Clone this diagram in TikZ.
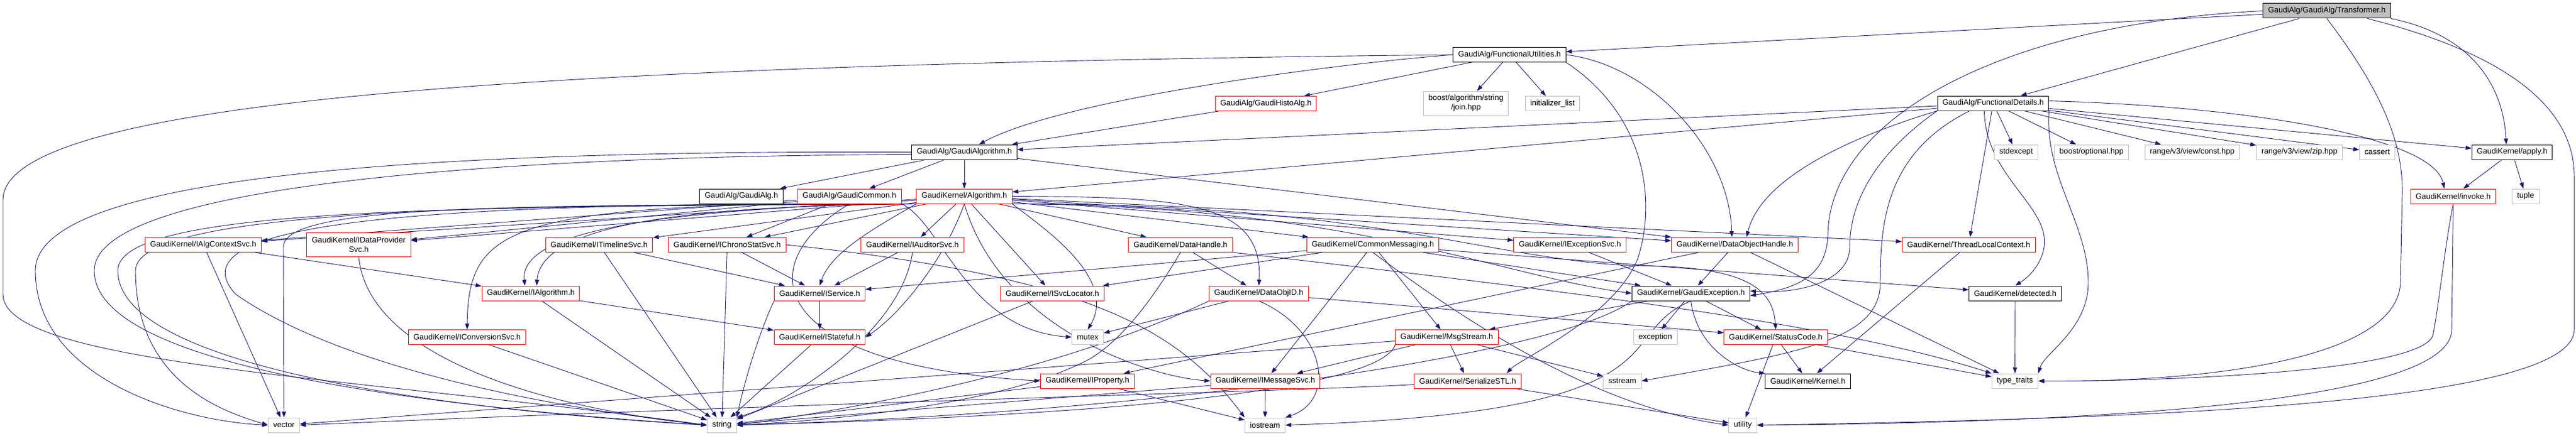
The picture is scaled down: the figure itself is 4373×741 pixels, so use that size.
\documentclass[tikz,border=0pt]{standalone}
\usepackage{fontspec}
\setmainfont{Liberation Sans}
\usetikzlibrary{arrows.meta}
\definecolor{edgeblue}{HTML}{191970}
\definecolor{sysgray}{HTML}{BFBFBF}
\definecolor{rootgray}{HTML}{BFBFBF}
\pgfdeclarelayer{edges}
\pgfsetlayers{edges,main}

\tikzset{
  hdr/.style={draw=black, fill=white, line width=1pt, inner xsep=8.5pt, inner ysep=2pt,
    minimum height=25pt, align=center, font=\fontsize{13.33}{16}\selectfont},
  trunc/.style={hdr, draw=red},
  sys/.style={hdr, draw=sysgray},
  root/.style={hdr, fill=rootgray},
  dep/.style={-{Triangle[length=10pt,width=7pt]}, draw=edgeblue, line width=0.9pt},
}

\begin{document}
\begin{tikzpicture}[x=1pt, y=-1pt]
    \useasboundingbox (0,0) rectangle (4373,741);
    % top levels
    \node[root] (tr) at (3950,18.5) {GaudiAlg/GaudiAlg/Transformer.h};
    \node[hdr] (fu) at (2562.5,93) {GaudiAlg/FunctionalUtilities.h};
    \node[trunc] (histo) at (2149,176) {GaudiAlg/GaudiHistoAlg.h};
    \node[sys, minimum height=41pt] (join) at (2488.5,175.5) {boost/algorithm/string\\/join.hpp};
    \node[sys] (initlist) at (2635.5,176) {initializer\_list};
    \node[hdr] (fd) at (3383.5,175.5) {GaudiAlg/FunctionalDetails.h};
    \node[hdr] (galgo) at (1637,258.5) {GaudiAlg/GaudiAlgorithm.h};
    \node[sys] (stdexcept) at (3422.5,258.5) {stdexcept};
    \node[sys] (optional) at (3550.5,258.5) {boost/optional.hpp};
    \node[sys] (rconst) at (3721.5,258.5) {range/v3/view/const.hpp};
    \node[sys] (rzip) at (3903.5,258.5) {range/v3/view/zip.hpp};
    \node[sys] (cassert) at (4035.5,258.5) {cassert};
    \node[hdr] (apply) at (4264.5,258.5) {GaudiKernel/apply.h};
    \node[hdr] (galg) at (1258.5,333.5) {GaudiAlg/GaudiAlg.h};
    \node[trunc] (gcommon) at (1442,333.5) {GaudiAlg/GaudiCommon.h};
    \node[trunc] (algo) at (1637,333.5) {GaudiKernel/Algorithm.h};
    \node[trunc] (invoke) at (4164.5,333.5) {GaudiKernel/invoke.h};
    \node[sys] (tuple) at (4287.5,333.5) {tuple};
    % interfaces
    \node[trunc] (ialgctx) at (345,416) {GaudiKernel/IAlgContextSvc.h};
    \node[trunc, minimum height=41pt] (idps) at (609,416) {GaudiKernel/IDataProvider\\Svc.h};
    \node[trunc] (itimeline) at (1017,416) {GaudiKernel/ITimelineSvc.h};
    \node[trunc] (ichrono) at (1234.5,416) {GaudiKernel/IChronoStatSvc.h};
    \node[trunc] (iauditor) at (1549,416) {GaudiKernel/IAuditorSvc.h};
    \node[trunc] (dhandle) at (2004,416) {GaudiKernel/DataHandle.h};
    \node[trunc] (cmsg) at (2330.5,416) {GaudiKernel/CommonMessaging.h};
    \node[trunc] (iexc) at (2665,416) {GaudiKernel/IExceptionSvc.h};
    \node[trunc] (doh) at (2945,416) {GaudiKernel/DataObjectHandle.h};
    \node[trunc] (tlc) at (3342,416) {GaudiKernel/ThreadLocalContext.h};
    \node[trunc] (ialgo) at (901,498.5) {GaudiKernel/IAlgorithm.h};
    \node[trunc] (iservice) at (1391.5,498.5) {GaudiKernel/IService.h};
    \node[trunc] (isvcloc) at (1786.5,498.5) {GaudiKernel/ISvcLocator.h};
    \node[trunc] (dobjid) at (2137,498.5) {GaudiKernel/DataObjID.h};
    \node[hdr] (gex) at (2870.5,498.5) {GaudiKernel/GaudiException.h};
    \node[hdr] (detected) at (3421,498.5) {GaudiKernel/detected.h};
    \node[trunc] (iconv) at (793,573) {GaudiKernel/IConversionSvc.h};
    \node[trunc] (istateful) at (1391.5,573) {GaudiKernel/IStateful.h};
    \node[sys] (mutex) at (1846.5,573) {mutex};
    \node[trunc] (msgstream) at (2456,573) {GaudiKernel/MsgStream.h};
    \node[sys] (exception) at (2810,573) {exception};
    \node[trunc] (statuscode) at (3014.5,573) {GaudiKernel/StatusCode.h};
    \node[trunc] (iprop) at (1846,647.5) {GaudiKernel/IProperty.h};
    \node[trunc] (imsgsvc) at (2148,647.5) {GaudiKernel/IMessageSvc.h};
    \node[trunc] (serial) at (2491.5,647.5) {GaudiKernel/SerializeSTL.h};
    \node[sys] (sstream) at (2754,647.5) {sstream};
    \node[hdr] (kernel) at (3069,647.5) {GaudiKernel/Kernel.h};
    \node[sys] (typetraits) at (3420.5,647.5) {type\_traits};
    % std headers
    \node[sys] (vector) at (482,722.5) {vector};
    \node[sys] (string) at (1225.5,722.5) {string};
    \node[sys] (iostream) at (2147.5,722.5) {iostream};
    \node[sys] (utility) at (2958.5,722.5) {utility};

    \begin{pgfonlayer}{edges}
    % straight dependencies
    \foreach \a/\b in {tr/fu, tr/fd, fu/histo, fu/join, fu/initlist, histo/galgo,
        fd/galgo, fd/algo, fd/stdexcept, fd/optional, fd/rconst, fd/rzip, fd/cassert,
        fd/apply, fd/tlc, apply/invoke, apply/tuple, galgo/galg, galgo/gcommon,
        galgo/algo, galgo/doh, algo/ialgctx, algo/idps, algo/itimeline, algo/ichrono,
        algo/iauditor, algo/dhandle, algo/cmsg, algo/iexc, algo/doh, algo/tlc,
        algo/isvcloc, gcommon/ialgctx, gcommon/idps, gcommon/ichrono,
        ialgctx/ialgo, ialgctx/vector, itimeline/iservice, itimeline/string,
        ichrono/iservice, ichrono/string, iauditor/iservice, iservice/istateful,
        ialgo/istateful, ialgo/string, isvcloc/string, istateful/string, iconv/string,
        dhandle/dobjid, cmsg/iservice, cmsg/isvcloc, cmsg/imsgsvc, cmsg/msgstream,
        cmsg/detected, cmsg/gex, iexc/gex, doh/gex, doh/iprop, doh/typetraits,
        tlc/kernel, detected/typetraits, dobjid/statuscode, dobjid/mutex,
        gex/msgstream, gex/exception, gex/statuscode, msgstream/imsgsvc,
        msgstream/serial, msgstream/sstream, msgstream/vector, statuscode/kernel,
        statuscode/utility, statuscode/typetraits, iprop/string, iprop/iostream,
        imsgsvc/iostream, imsgsvc/string, serial/utility}
        \draw[dep] (\a) -- (\b);
    % routed dependencies
    \draw[dep] (fu.west) .. controls (900,110) and (5,170) .. (5,340) -- (5,500)
        .. controls (5,620) and (600,640) .. (string.west);
    \draw[dep] (fu.west) .. controls (2250,110) and (1800,170) .. ([xshift=25pt]galgo.north);
    \draw[dep] (fu.east) .. controls (2800,110) and (2935,250) .. ([xshift=-5pt]doh.north);
    \draw[dep] (fu.south east) .. controls (2800,200) and (2810,350) .. (2780,440)
        .. controls (2740,540) and (2580,610) .. ([xshift=-25pt]serial.north east);
    \draw[dep] (tr.west) .. controls (3400,40) and (3105,200) .. (3103,400)
        .. controls (3100,470) and (3050,490) .. ([yshift=-4pt]gex.east);
    \draw[dep] (tr.south) .. controls (4040,150) and (4080,240) .. (4078,330) -- (4075,480)
        .. controls (4070,620) and (3700,650) .. (typetraits.east);
    \draw[dep] (tr.south east) .. controls (4200,60) and (4250,150) .. ([xshift=-10pt]apply.north);
    \draw[dep] ([xshift=-40pt]tr.south east) .. controls (4250,90) and (4370,180) .. (4370,300) -- (4370,560)
        .. controls (4370,690) and (3600,712) .. (utility.east);
    \draw[dep] (invoke.south) .. controls (4150,420) and (4140,520) .. (4130,570)
        .. controls (4110,630) and (3700,648) .. (typetraits.east);
    \draw[dep] (invoke.south) -- (4162,560) .. controls (4162,680) and (3600,718) .. (utility.east);
    \draw[dep] ([yshift=4pt]fd.east) .. controls (3800,180) and (4130,230) .. ([xshift=-15pt]invoke.north);
    \draw[dep] (fd.south west) .. controls (3150,230) and (2990,300) .. ([xshift=20pt]doh.north);
    \draw[dep] (fd.south west) .. controls (3200,250) and (3140,330) .. (3140,420)
        .. controls (3140,480) and (3050,500) .. ([yshift=4pt]gex.east);
    \draw[dep] ([xshift=-40pt]fd.south) .. controls (3200,260) and (3192,380) .. (3192,480)
        .. controls (3192,580) and (3050,600) .. (sstream.east);
    \draw[dep] ([xshift=-15pt]fd.south) .. controls (3370,300) and (3480,350) .. (3470,420)
        .. controls (3465,450) and (3445,470) .. (detected.north);
    \draw[dep] (fd.south east) .. controls (3470,300) and (3545,380) .. (3545,480)
        .. controls (3545,560) and (3470,600) .. (typetraits.north east);
    \draw[dep] (galgo.west) .. controls (700,255) and (60,300) .. (60,460)
        .. controls (60,640) and (300,715) .. (vector.west);
    \draw[dep] ([yshift=-4pt]galgo.west) .. controls (800,265) and (160,320) .. (160,460)
        .. controls (160,620) and (700,690) .. (string.west);
    \draw[dep] (algo.south west) .. controls (900,350) and (481,345) .. (481,420) -- (vector.north);
    \draw[dep] (algo.south west) .. controls (800,352) and (200,350) .. (200,460)
        .. controls (200,630) and (800,700) .. (string.west);
    \draw[dep] (gcommon.south west) .. controls (800,350) and (230,360) .. (230,460)
        .. controls (230,650) and (380,700) .. (vector.west);
    \draw[dep] (gcommon.south west) .. controls (700,350) and (290,380) .. (400,500)
        .. controls (600,640) and (1000,700) .. (string.west);
    \draw[dep] (gcommon.south west) .. controls (850,355) and (795,400) .. (iconv.north);
    \draw[dep] (gcommon.south east) .. controls (1600,380) and (1640,560) .. (mutex.west);
    \draw[dep] (gcommon.south) .. controls (1270,450) and (1300,620) .. (iprop.west);
    \draw[dep] (gcommon.south) .. controls (1200,360) and (880,380) .. ([xshift=-10pt]ialgo.north);
    \draw[dep] (algo.south west) .. controls (1300,350) and (920,360) .. ([xshift=10pt]ialgo.north);
    \draw[dep] (algo.south west) .. controls (1480,390) and (1410,430) .. (iservice.north);
    \draw[dep] (algo.south) .. controls (1600,450) and (1520,540) .. (istateful.east);
    \draw[dep] (algo.south east) .. controls (1760,380) and (1900,470) .. (mutex.north);
    \draw[dep] (algo.east) .. controls (2000,335) and (2145,340) .. (dobjid.north);
    \draw[dep] (algo.south) .. controls (1700,560) and (1950,640) .. (imsgsvc.west);
    \draw[dep] (algo.south east) .. controls (2300,350) and (2550,470) .. (gex.west);
    \draw[dep] (algo.south east) .. controls (2350,345) and (2550,450) .. (2800,452)
        .. controls (2980,455) and (3010,500) .. (statuscode.north);
    \draw[dep] (idps.south) .. controls (625,600) and (900,690) .. (string.west);
    \draw[dep] (ichrono.east) .. controls (1850,470) and (2000,560) .. (iostream.north west);
    \draw[dep] (iauditor.south) .. controls (1530,560) and (1350,680) .. (string.north east);
    \draw[dep] (iservice.south west) .. controls (1300,540) and (1270,620) .. (string.north east);
    \draw[dep] (dhandle.south) .. controls (1950,520) and (1900,580) .. (1850,610)
        .. controls (1700,690) and (1400,715) .. (string.east);
    \draw[dep] (dhandle.south east) .. controls (2800,510) and (3150,560) .. (typetraits.north west);
    \draw[dep] (cmsg.south) .. controls (2480,540) and (2700,690) .. (utility.west);
    \draw[dep] (dobjid.south west) .. controls (1950,560) and (1700,660) .. (string.east);
    \draw[dep] (dobjid.south) .. controls (2250,560) and (2270,680) .. (iostream.north east);
    \draw[dep] (msgstream.south west) .. controls (2350,640) and (2100,700) .. (string.east);
    \draw[dep] ([yshift=-6pt]serial.west) .. controls (2200,665) and (1500,680) .. (vector.east);
    \draw[dep] (gex.south) .. controls (2880,590) and (2950,630) .. (kernel.north west);
    \draw[dep] (gex.south) .. controls (2730,570) and (2880,700) .. (iostream.east);
    \draw[dep] (gex.south west) .. controls (2650,600) and (2000,700) .. (string.east);
    \end{pgfonlayer}
\end{tikzpicture}
\end{document}
